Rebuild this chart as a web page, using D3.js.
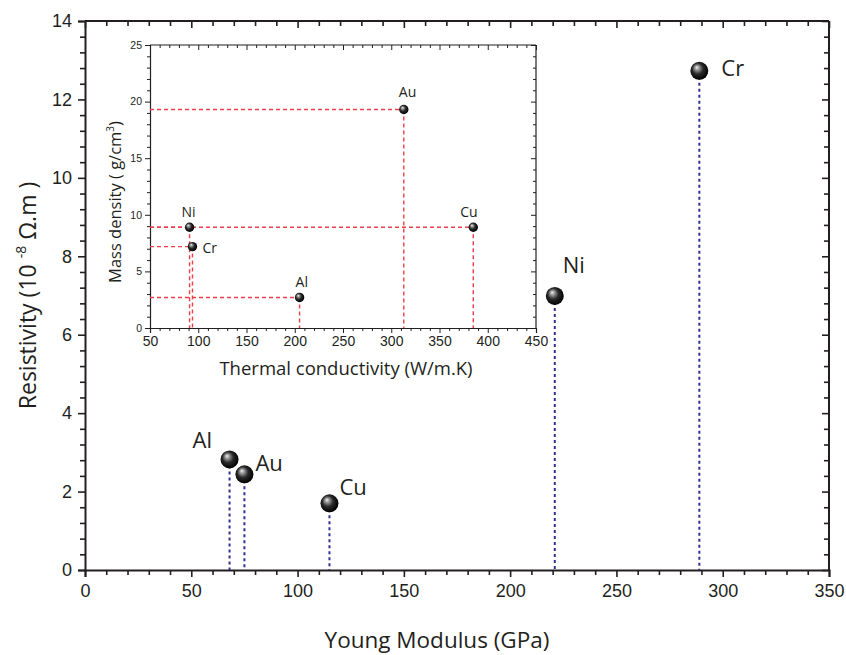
<!DOCTYPE html>
<html>
<head>
<meta charset="utf-8">
<script src="https://cdn.jsdelivr.net/npm/d3@7"></script>
<style>
  body { margin: 0; background: #fff; }
  svg { display: block; font-family: "Open Sans", "Noto Sans", sans-serif; }
  .axis text { fill: #231f20; }
  .axis path, .axis line { stroke: #231f20; }
</style>
</head>
<body>
<div id="chart"></div>
<script>
// main chart: Young modulus vs resistivity
const metals = ["Al", "Au", "Cu", "Ni", "Cr"];
const youngModulus = [68, 75, 115, 221, 289];
const resistivity = [2.82, 2.44, 1.70, 6.99, 12.73];

// inset: thermal conductivity vs mass density
const insetMetals = ["Ni", "Cr", "Al", "Au", "Cu"];
const thermalCond = [91, 94, 205, 313, 385];
const massDensity = [8.9, 7.19, 2.7, 19.3, 8.9];

const xTicksMain = [0, 50, 100, 150, 200, 250, 300, 350];
const yTicksMain = [0, 2, 4, 6, 8, 10, 12, 14];
const xTicksInset = [50, 100, 150, 200, 250, 300, 350, 400, 450];
const yTicksInset = [0, 5, 10, 15, 20, 25];

const W = 846, H = 655;
const main = { left: 85, right: 829, top: 21, bottom: 570 };
const inset = { left: 150, right: 536, top: 45, bottom: 328 };
const ink = "#231f20";

const svg = d3.select("#chart").append("svg").attr("width", W).attr("height", H);

const defs = svg.append("defs");
const grad = defs.append("radialGradient").attr("id", "ball")
    .attr("cx", "45%").attr("cy", "45%").attr("r", "55%")
    .attr("fx", "35%").attr("fy", "30%");
grad.append("stop").attr("offset", "0%").attr("stop-color", "#f4f4f4");
grad.append("stop").attr("offset", "22%").attr("stop-color", "#9a9a9a");
grad.append("stop").attr("offset", "55%").attr("stop-color", "#2a2a2a");
grad.append("stop").attr("offset", "100%").attr("stop-color", "#000");

function drawFrame(box, x, y, opt) {
    const g = svg.append("g");
    const majX = opt.xTicks, majY = opt.yTicks;
    const minX = d3.range(x.domain()[0], x.domain()[1] + 1e-6, opt.xMinor).filter(v => !majX.some(m => Math.abs(m - v) < 1e-6));
    const minY = d3.range(y.domain()[0], y.domain()[1] + 1e-6, opt.yMinor).filter(v => !majY.some(m => Math.abs(m - v) < 1e-6));

    // bottom (outward)
    g.append("g").attr("class", "axis").attr("transform", `translate(0,${box.bottom})`)
        .call(d3.axisBottom(x).tickValues(majX).tickSize(opt.major).tickPadding(opt.padX).tickFormat(d3.format("d")))
        .call(a => a.selectAll("text").style("font-size", opt.xFont + "px"));
    g.append("g").attr("class", "axis").attr("transform", `translate(0,${box.bottom})`)
        .call(d3.axisBottom(x).tickValues(minX).tickSize(opt.minor).tickFormat(""))
        .call(a => a.select(".domain").remove());
    // left (outward)
    g.append("g").attr("class", "axis").attr("transform", `translate(${box.left},0)`)
        .call(d3.axisLeft(y).tickValues(majY).tickSize(opt.major).tickPadding(opt.padY).tickFormat(d3.format("d")))
        .call(a => a.selectAll("text").style("font-size", opt.yFont + "px"));
    g.append("g").attr("class", "axis").attr("transform", `translate(${box.left},0)`)
        .call(d3.axisLeft(y).tickValues(minY).tickSize(opt.minor).tickFormat(""))
        .call(a => a.select(".domain").remove());
    // top (inward)
    g.append("g").attr("class", "axis").attr("transform", `translate(0,${box.top})`)
        .call(d3.axisTop(x).tickValues(majX).tickSize(-opt.major).tickFormat(""))
        .call(a => a.select(".domain").attr("d", `M${box.left},0H${box.right}`));
    g.append("g").attr("class", "axis").attr("transform", `translate(0,${box.top})`)
        .call(d3.axisTop(x).tickValues(minX).tickSize(-opt.minor).tickFormat(""))
        .call(a => a.select(".domain").remove());
    // right (inward)
    g.append("g").attr("class", "axis").attr("transform", `translate(${box.right},0)`)
        .call(d3.axisRight(y).tickValues(majY).tickSize(-opt.major).tickFormat(""))
        .call(a => a.select(".domain").attr("d", `M0,${box.top}V${box.bottom}`));
    g.append("g").attr("class", "axis").attr("transform", `translate(${box.right},0)`)
        .call(d3.axisRight(y).tickValues(minY).tickSize(-opt.minor).tickFormat(""))
        .call(a => a.select(".domain").remove());

    g.selectAll(".domain").attr("stroke-width", opt.frame);
    g.selectAll(".tick line").attr("stroke-width", opt.tickW);
    return g;
}

// ---------- main chart ----------
const x = d3.scaleLinear().domain([0, 350]).range([main.left, main.right]);
const y = d3.scaleLinear().domain([0, 14]).range([main.bottom, main.top]);

drawFrame(main, x, y, {
    xTicks: xTicksMain, yTicks: yTicksMain, xMinor: 10, yMinor: 0.4,
    major: 7, minor: 5, padX: 7, padY: 6, xFont: 18, yFont: 18, frame: 2, tickW: 1.6
});

const mainData = metals.map((m, i) => ({ name: m, x: youngModulus[i], y: resistivity[i] }));

svg.append("g").selectAll("line")
    .data(mainData)
    .join("line")
    .attr("x1", d => x(d.x)).attr("x2", d => x(d.x))
    .attr("y1", d => y(d.y)).attr("y2", y(0))
    .attr("stroke", "#2e3192")
    .attr("stroke-width", 2)
    .attr("stroke-dasharray", "3,3");

svg.append("g").selectAll("circle")
    .data(mainData)
    .join("circle")
    .attr("cx", d => x(d.x)).attr("cy", d => y(d.y))
    .attr("r", 9)
    .attr("fill", "url(#ball)");

const mainLabelOffset = { Al: [-37, -11], Au: [11, -3], Cu: [10, -8], Ni: [8, -23], Cr: [22, 5] };
svg.append("g").selectAll("text")
    .data(mainData)
    .join("text")
    .attr("x", d => x(d.x) + mainLabelOffset[d.name][0])
    .attr("y", d => y(d.y) + mainLabelOffset[d.name][1])
    .attr("fill", ink)
    .style("font-size", "22px")
    .text(d => d.name);

// axis titles
svg.append("text")
    .attr("x", 437)
    .attr("y", 648)
    .attr("text-anchor", "middle")
    .attr("fill", ink)
    .style("font-size", "22.5px")
    .text("Young Modulus (GPa)");

const yTitle = svg.append("text")
    .attr("transform", `translate(36,${(main.top + main.bottom) / 2}) rotate(-90)`)
    .attr("text-anchor", "middle")
    .attr("fill", ink)
    .style("font-size", "23px");
yTitle.append("tspan").text("Resistivity (10 ");
yTitle.append("tspan").attr("dy", -10).style("font-size", "14px").text("-8");
yTitle.append("tspan").attr("dy", 10).text(" Ω.m )");

// ---------- inset ----------
const xi = d3.scaleLinear().domain([50, 450]).range([inset.left, inset.right]);
const yi = d3.scaleLinear().domain([0, 25]).range([inset.bottom, inset.top]);

svg.append("rect")
    .attr("x", inset.left).attr("y", inset.top)
    .attr("width", inset.right - inset.left).attr("height", inset.bottom - inset.top)
    .attr("fill", "#fff");

drawFrame(inset, xi, yi, {
    xTicks: xTicksInset, yTicks: yTicksInset, xMinor: 10, yMinor: 1,
    major: 5, minor: 3, padX: 3, padY: 3, xFont: 14, yFont: 10.5, frame: 1.2, tickW: 1
});

const insetData = insetMetals.map((m, i) => ({ name: m, x: thermalCond[i], y: massDensity[i] }));
const red = "#ef3e4a";

const guides = svg.append("g").attr("fill", "none").attr("stroke", red)
    .attr("stroke-width", 1.4).attr("stroke-dasharray", "4,3");
guides.selectAll("line.h")
    .data(insetData)
    .join("line").attr("class", "h")
    .attr("x1", xi(50)).attr("x2", d => xi(d.x))
    .attr("y1", d => yi(d.y)).attr("y2", d => yi(d.y));
guides.selectAll("line.v")
    .data(insetData)
    .join("line").attr("class", "v")
    .attr("x1", d => xi(d.x)).attr("x2", d => xi(d.x))
    .attr("y1", d => yi(d.y)).attr("y2", yi(0));

svg.append("g").selectAll("circle")
    .data(insetData)
    .join("circle")
    .attr("cx", d => xi(d.x)).attr("cy", d => yi(d.y))
    .attr("r", 4.7)
    .attr("fill", "url(#ball)");

const insetLabelOffset = { Ni: [-8, -10], Cr: [10, 6], Al: [-4, -10], Au: [-5, -13], Cu: [-13, -10] };
svg.append("g").selectAll("text")
    .data(insetData)
    .join("text")
    .attr("x", d => xi(d.x) + insetLabelOffset[d.name][0])
    .attr("y", d => yi(d.y) + insetLabelOffset[d.name][1])
    .attr("fill", ink)
    .style("font-size", "14px")
    .text(d => d.name);

svg.append("text")
    .attr("x", 346)
    .attr("y", 375)
    .attr("text-anchor", "middle")
    .attr("fill", ink)
    .style("font-size", "18.5px")
    .text("Thermal conductivity (W/m.K)");

const yiTitle = svg.append("text")
    .attr("transform", `translate(121,202) rotate(-90)`)
    .attr("text-anchor", "middle")
    .attr("fill", ink)
    .style("font-size", "16.5px");
yiTitle.append("tspan").text("Mass density ( g/cm");
yiTitle.append("tspan").attr("dy", -7).style("font-size", "10px").text("3");
yiTitle.append("tspan").attr("dy", 7).text(")");
</script>
</body>
</html>
